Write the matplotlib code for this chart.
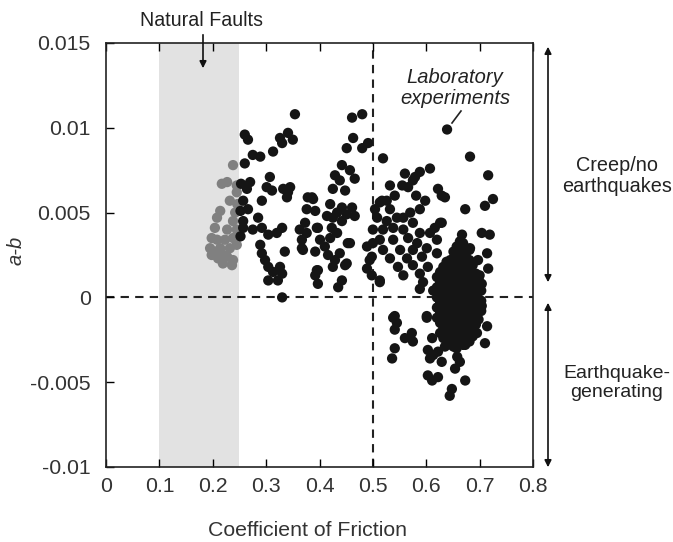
import matplotlib
matplotlib.use("Agg")
import matplotlib.pyplot as plt
from matplotlib.lines import Line2D
from matplotlib.patches import FancyArrowPatch

plt.rcParams['font.family'] = ['Liberation Sans', 'DejaVu Sans']

# ---------------- data ----------------
x_ticks = [0, 0.1, 0.2, 0.3, 0.4, 0.5, 0.6, 0.7, 0.8]
x_tick_labels = ["0", "0.1", "0.2", "0.3", "0.4", "0.5", "0.6", "0.7", "0.8"]
y_ticks = [-0.01, -0.005, 0, 0.005, 0.01, 0.015]
y_tick_labels = ["-0.01", "-0.005", "0", "0.005", "0.01", "0.015"]

natural_band = [0.10, 0.25]

# natural fault gouge samples (grey)
fault_x = [0.238, 0.217, 0.227, 0.245, 0.232, 0.245, 0.214, 0.208, 0.238, 0.204,
           0.227, 0.245, 0.198, 0.208, 0.238, 0.195, 0.214, 0.232, 0.245, 0.198,
           0.210, 0.227, 0.238, 0.219, 0.236, 0.204, 0.223, 0.242, 0.220, 0.246]
fault_y = [0.0078, 0.0067, 0.0068, 0.0066, 0.0057, 0.0062, 0.0051, 0.0047, 0.0045, 0.0041,
           0.0040, 0.0040, 0.0035, 0.0034, 0.0035, 0.0029, 0.0029, 0.0029, 0.0031, 0.0025,
           0.0023, 0.0024, 0.0022, 0.0020, 0.0019, 0.0027, 0.0034, 0.0050, 0.0025, 0.0055]

# laboratory experiments (black), scattered part
lab_x = [
    # 0.25-0.38
    0.260, 0.266, 0.326, 0.341, 0.350, 0.330, 0.275, 0.289, 0.313, 0.260,
    0.270, 0.264, 0.257, 0.266, 0.307, 0.301, 0.311, 0.292, 0.332, 0.341,
    0.345, 0.339, 0.257, 0.257, 0.285, 0.275, 0.292, 0.304, 0.320, 0.330,
    0.289, 0.292, 0.298, 0.304, 0.313, 0.326, 0.330, 0.304, 0.322, 0.335,
    0.330, 0.363, 0.367, 0.378, 0.376, 0.354, 0.253, 0.252, 0.252,
    # 0.37-0.52
    0.461, 0.480, 0.463, 0.451, 0.480, 0.491, 0.519, 0.442, 0.457, 0.429,
    0.438, 0.466, 0.425, 0.448, 0.388, 0.392, 0.420, 0.433, 0.442, 0.461,
    0.466, 0.414, 0.425, 0.442, 0.373, 0.376, 0.397, 0.423, 0.433, 0.367,
    0.401, 0.420, 0.457, 0.369, 0.392, 0.410, 0.416, 0.429, 0.438, 0.425,
    0.448, 0.397, 0.392, 0.397, 0.442, 0.435, 0.489, 0.494, 0.489, 0.498,
    0.513, 0.517, 0.386, 0.395, 0.395, 0.451, 0.453, 0.451,
    # 0.50-0.63
    0.560, 0.588, 0.607, 0.575, 0.532, 0.555, 0.566, 0.622, 0.629, 0.541,
    0.581, 0.598, 0.513, 0.526, 0.504, 0.532, 0.570, 0.588, 0.508, 0.526,
    0.545, 0.557, 0.575, 0.626, 0.616, 0.500, 0.519, 0.538, 0.557, 0.588,
    0.607, 0.500, 0.513, 0.538, 0.566, 0.583, 0.620, 0.519, 0.551, 0.575,
    0.601, 0.498, 0.532, 0.564, 0.592, 0.620, 0.547, 0.575, 0.603, 0.557,
    0.588, 0.513, 0.588, 0.613, 0.594, 0.579,
    # upper right scattered
    0.682, 0.716, 0.725, 0.710, 0.673, 0.635, 0.629, 0.667, 0.704, 0.719,
    0.714, 0.697, 0.716, 0.700, 0.704, 0.663, 0.682, 0.639,
    # below zero
    0.541, 0.545, 0.541, 0.573, 0.560, 0.575, 0.541, 0.536, 0.611, 0.601,
    0.603, 0.613, 0.607, 0.629, 0.622, 0.658, 0.663, 0.654, 0.603, 0.611,
    0.622, 0.673, 0.648, 0.644, 0.714, 0.710, 0.673, 0.648, 0.635, 0.682,
    0.695, 0.704, 0.538, 0.601,
]
lab_y = [
    0.0096, 0.0093, 0.0094, 0.0097, 0.0093, 0.0091, 0.0084, 0.0083, 0.0086, 0.0079,
    0.0068, 0.0064, 0.0057, 0.0052, 0.0071, 0.0065, 0.0063, 0.0057, 0.0064, 0.0062,
    0.0065, 0.0059, 0.0045, 0.0041, 0.0047, 0.0040, 0.0041, 0.0037, 0.0038, 0.0041,
    0.0031, 0.0026, 0.0022, 0.0018, 0.0015, 0.0018, 0.0014, 0.0010, 0.0010, 0.0027,
    0.0000, 0.0040, 0.0029, 0.0059, 0.0052, 0.0108, 0.0067, 0.0051, 0.0036,
    0.0106, 0.0108, 0.0094, 0.0088, 0.0088, 0.0091, 0.0082, 0.0078, 0.0075, 0.0072,
    0.0069, 0.0070, 0.0064, 0.0063, 0.0058, 0.0051, 0.0055, 0.0050, 0.0053, 0.0053,
    0.0048, 0.0048, 0.0047, 0.0045, 0.0044, 0.0038, 0.0041, 0.0041, 0.0038, 0.0034,
    0.0034, 0.0035, 0.0032, 0.0028, 0.0027, 0.0030, 0.0025, 0.0022, 0.0026, 0.0018,
    0.0019, 0.0016, 0.0013, 0.0008, 0.0010, 0.0006, 0.0030, 0.0022, 0.0017, 0.0013,
    0.0009, 0.0057, 0.0059, 0.0041, 0.0016, 0.0049, 0.0032, 0.0020,
    0.0073, 0.0074, 0.0076, 0.0069, 0.0066, 0.0066, 0.0065, 0.0064, 0.0060, 0.0060,
    0.0060, 0.0057, 0.0056, 0.0057, 0.0052, 0.0052, 0.0050, 0.0052, 0.0047, 0.0045,
    0.0047, 0.0047, 0.0044, 0.0044, 0.0041, 0.0040, 0.0040, 0.0041, 0.0040, 0.0038,
    0.0038, 0.0032, 0.0034, 0.0034, 0.0035, 0.0032, 0.0034, 0.0028, 0.0028, 0.0028,
    0.0029, 0.0024, 0.0023, 0.0023, 0.0024, 0.0026, 0.0018, 0.0019, 0.0018, 0.0013,
    0.0014, 0.0010, 0.0005, 0.0004, 0.0009, 0.0071,
    0.0083, 0.0072, 0.0058, 0.0054, 0.0052, 0.0059, 0.0044, 0.0037, 0.0038, 0.0037,
    0.0026, 0.0022, 0.0017, 0.0013, 0.0008, 0.0030, 0.0029, 0.0099,
    -0.0011, -0.0015, -0.0019, -0.0021, -0.0024, -0.0026, -0.0030, -0.0036, -0.0024, -0.0011,
    -0.0031, -0.0034, -0.0036, -0.0038, -0.0032, -0.0035, -0.0038, -0.0042, -0.0046, -0.0049,
    -0.0047, -0.0049, -0.0054, -0.0058, -0.0017, -0.0027, -0.0028, -0.0028, -0.0029, -0.0024,
    -0.0021, -0.0005, -0.0012, -0.0012,
]

# laboratory experiments (black), dense cluster near mu 0.62-0.70
cluster_x = [
    0.620, 0.620, 0.620, 0.620, 0.620,
    0.626, 0.626, 0.626, 0.626, 0.626, 0.626, 0.626,
    0.632, 0.632, 0.632, 0.632, 0.632, 0.632, 0.632, 0.632,
    0.638, 0.638, 0.638, 0.638, 0.638, 0.638, 0.638, 0.638,
    0.645, 0.645, 0.645, 0.645, 0.645, 0.645, 0.645, 0.645, 0.645,
    0.651, 0.651, 0.651, 0.651, 0.651, 0.651, 0.651, 0.651, 0.651, 0.651,
    0.657, 0.657, 0.657, 0.657, 0.657, 0.657, 0.657, 0.657, 0.657, 0.657, 0.657,
    0.663, 0.663, 0.663, 0.663, 0.663, 0.663, 0.663, 0.663, 0.663, 0.663, 0.663,
    0.669, 0.669, 0.669, 0.669, 0.669, 0.669, 0.669, 0.669, 0.669, 0.669, 0.669,
    0.675, 0.675, 0.675, 0.675, 0.675, 0.675, 0.675, 0.675, 0.675, 0.675,
    0.681, 0.681, 0.681, 0.681, 0.681, 0.681, 0.681, 0.681, 0.681, 0.681,
    0.687, 0.687, 0.687, 0.687, 0.687, 0.687, 0.687, 0.687,
    0.693, 0.693, 0.693, 0.693, 0.693, 0.693,
    0.698, 0.698, 0.698, 0.698, 0.698,
    0.703, 0.703, 0.703,
]
cluster_y = [
    0.0012, 0.0006, 0.0000, -0.0006, -0.0012,
    0.0015, 0.0009, 0.0003, -0.0003, -0.0009, -0.0015, -0.0021,
    0.0018, 0.0012, 0.0006, 0.0000, -0.0006, -0.0012, -0.0018, -0.0024,
    0.0021, 0.0015, 0.0009, 0.0003, -0.0003, -0.0009, -0.0015, -0.0021,
    0.0022, 0.0016, 0.0010, 0.0004, -0.0002, -0.0008, -0.0014, -0.0020, -0.0026,
    0.0027, 0.0019, 0.0013, 0.0007, 0.0001, -0.0005, -0.0011, -0.0017, -0.0023, -0.0029,
    0.0030, 0.0024, 0.0018, 0.0012, 0.0006, 0.0000, -0.0006, -0.0012, -0.0018, -0.0024, -0.0030,
    0.0033, 0.0027, 0.0021, 0.0015, 0.0009, 0.0003, -0.0003, -0.0009, -0.0015, -0.0021, -0.0027,
    0.0032, 0.0026, 0.0020, 0.0014, 0.0008, 0.0002, -0.0004, -0.0010, -0.0016, -0.0022, -0.0028,
    0.0029, 0.0023, 0.0017, 0.0011, 0.0005, -0.0001, -0.0007, -0.0013, -0.0019, -0.0025,
    0.0028, 0.0022, 0.0016, 0.0010, 0.0004, -0.0002, -0.0008, -0.0014, -0.0020, -0.0026,
    0.0019, 0.0013, 0.0007, 0.0001, -0.0005, -0.0011, -0.0017, -0.0023,
    0.0014, 0.0008, 0.0002, -0.0004, -0.0010, -0.0016,
    0.0011, 0.0005, -0.0001, -0.0007, -0.0013,
    0.0004, -0.0002, -0.0008,
]

# ---------------- figure ----------------
W, H = 673, 542
fig = plt.figure(figsize=(W / 100, H / 100), dpi=100)
ax = fig.add_axes([106 / W, 1 - 467 / H, 427 / W, 424 / H])


def fx(px):
    return px / W


def fy(py):
    return 1 - py / H


ax.axvspan(natural_band[0], natural_band[1], color='#e2e2e2', lw=0, zorder=0)
ax.axhline(0, color='#222222', lw=1.5, ls=(0, (4, 3)), zorder=1)
ax.axvline(0.5, color='#222222', lw=1.5, ls=(0, (4, 3)), zorder=1)

ax.scatter(fault_x, fault_y, s=55, color='#808080', edgecolors='none', zorder=2)
ax.scatter(lab_x, lab_y, s=55, color='#151515', edgecolors='none', zorder=3)
ax.scatter(cluster_x, cluster_y, s=55, color='#151515', edgecolors='none', zorder=3)

ax.set_xlim(0, 0.8)
ax.set_ylim(-0.01, 0.015)
ax.set_xticks(x_ticks)
ax.set_xticklabels(x_tick_labels)
ax.set_yticks(y_ticks)
ax.set_yticklabels(y_tick_labels)
ax.tick_params(direction='in', length=6, width=1, top=True, right=False,
               labelsize=15.3, labelcolor='#333333')
ax.tick_params(axis='y', pad=11)
ax.tick_params(axis='x', pad=7)
for sp in ax.spines.values():
    sp.set_linewidth(1.2)
    sp.set_color('#222222')

# axis labels
fig.text(fx(307), fy(530), "Coefficient of Friction", ha='center', va='center',
         fontsize=15.3, color='#333333')
fig.text(fx(16), fy(250), "a-b", ha='center', va='center', rotation=90,
         fontsize=14.5, style='italic', color='#333333')

# Natural Faults annotation
fig.text(fx(202), fy(21), "Natural Faults", ha='center', va='center',
         fontsize=14.1, color='#222222')
fig.add_artist(FancyArrowPatch(
    (fx(203), fy(32)), (fx(203), fy(71)), transform=fig.transFigure,
    arrowstyle='-|>', mutation_scale=10, color='#111111', lw=1.2))

# Laboratory experiments annotation
fig.text(fx(455), fy(88), "Laboratory\nexperiments", ha='center', va='center',
         fontsize=14.5, style='italic', color='#222222', linespacing=1.1)
fig.add_artist(Line2D([fx(461), fx(452)], [fy(111), fy(123)],
                      transform=fig.transFigure, color='#222222', lw=1.2))

# right side arrows
fig.add_artist(FancyArrowPatch(
    (fx(548), fy(44)), (fx(548), fy(285)), transform=fig.transFigure,
    arrowstyle='<|-|>', mutation_scale=10, color='#111111', lw=1.2))
fig.add_artist(FancyArrowPatch(
    (fx(548), fy(300)), (fx(548), fy(470)), transform=fig.transFigure,
    arrowstyle='<|-|>', mutation_scale=10, color='#111111', lw=1.2))

fig.text(fx(617), fy(176), "Creep/no\nearthquakes", ha='center', va='center',
         fontsize=14.3, color='#222222', linespacing=1.15)
fig.text(fx(617), fy(383), "Earthquake-\ngenerating", ha='center', va='center',
         fontsize=14.0, color='#222222', linespacing=1.15)

fig.savefig("out.png", dpi=100)
